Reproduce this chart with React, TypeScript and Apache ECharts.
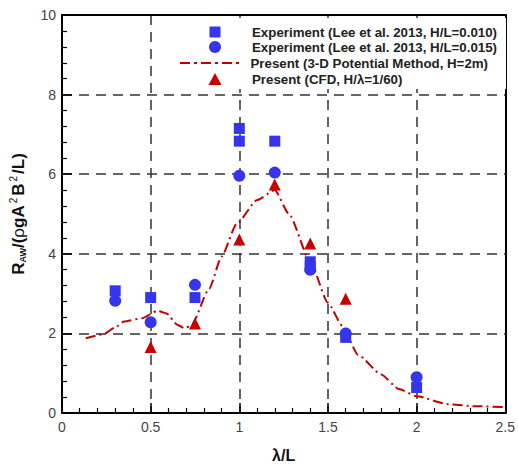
import React, { useEffect, useRef } from "react";
import * as echarts from "echarts";

const expSquareX = [0.3, 0.5, 0.75, 1.0, 1.0, 1.2, 1.4, 1.4, 1.6, 2.0];
const expSquareY = [3.07, 2.9, 2.9, 7.15, 6.83, 6.83, 3.8, 3.68, 1.9, 0.64];

const expCircleX = [0.3, 0.5, 0.75, 1.0, 1.2, 1.4, 1.6, 2.0];
const expCircleY = [2.82, 2.28, 3.22, 5.96, 6.04, 3.6, 2.0, 0.9];

const cfdX = [0.5, 0.75, 1.0, 1.2, 1.4, 1.6];
const cfdY = [1.66, 2.25, 4.36, 5.74, 4.26, 2.87];

const potX = [0.134, 0.235, 0.3, 0.35, 0.45, 0.54, 0.59, 0.65, 0.69, 0.73, 0.83, 0.9, 0.985, 1.1, 1.2, 1.28, 1.4, 1.5, 1.58, 1.67, 1.8, 1.9, 2.0, 2.18, 2.33, 2.5];
const potY = [1.88, 1.98, 2.15, 2.3, 2.38, 2.57, 2.5, 2.22, 2.13, 2.2, 3.12, 3.93, 4.75, 5.35, 5.6, 5.0, 3.8, 2.77, 2.2, 1.46, 0.97, 0.6, 0.42, 0.22, 0.17, 0.15];

const seriesNames = [
  "Experiment (Lee et al. 2013, H/L=0.010)",
  "Experiment (Lee et al. 2013, H/L=0.015)",
  "Present (3-D Potential Method, H=2m)",
  "Present (CFD, H/\u03bb=1/60)",
];

const dashDotIcon =
  "path://M0,0h10v2h-10z M14,0h3v2h-3z M21,0h10v2h-10z M35,0h3v2h-3z M42,0h10v2h-10z M56,0h3v2h-3z";

const zip = (xs: number[], ys: number[]) => xs.map((x, i) => [x, ys[i]]);

export default function App() {
  const ref = useRef<HTMLDivElement>(null);
  useEffect(() => {
    if (!ref.current) return;
    const chart = echarts.init(ref.current, undefined, { renderer: "svg", width: 518, height: 468 });
    const font = "Liberation Sans, Arial, sans-serif";
    const legendText = { fontFamily: font, fontSize: 13.3, fontWeight: "bold", color: "#222" };
    const textH = 15;
    const mkLegend = (item: any, centerY: number, iconW: number, iconH: number, iconCx: number, textX: number) => ({
      orient: "vertical",
      left: iconCx - iconW / 2,
      top: centerY - Math.max(iconH, textH) / 2,
      padding: 0,
      itemWidth: iconW,
      itemHeight: iconH,
      textStyle: { ...legendText, padding: [0, 0, 0, textX - (iconCx + iconW / 2) - 5] },
      data: [item],
      z: 5,
    });
    const mainAxis = {
      axisLine: { show: true, onZero: false, lineStyle: { color: "#000", width: 2 } },
      axisTick: { show: true, inside: true, length: 10, lineStyle: { color: "#000", width: 1.5 } },
      minorTick: { show: true, splitNumber: 5, length: 5, lineStyle: { color: "#000", width: 1.2 } },
    };
    const frameAxis = {
      axisLine: { show: true, onZero: false, lineStyle: { color: "#000", width: 2 } },
      axisTick: { show: false },
      minorTick: { show: false },
      axisLabel: { show: false },
      splitLine: { show: false },
    };
    chart.setOption({
      animation: false,
      backgroundColor: "#fff",
      grid: { left: 61, right: 10, top: 15, bottom: 49, containLabel: false },
      graphic: [
        {
          type: "rect",
          shape: { x: 174, y: 18, width: 332, height: 71 },
          style: { fill: "#fff" },
          z: 1,
        },
      ],
      legend: [
        mkLegend(seriesNames[0], 33, 11, 11, 215, 252),
        mkLegend(seriesNames[1], 48, 12, 12, 215, 252),
        mkLegend({ name: seriesNames[2], icon: dashDotIcon }, 64, 62, 2, 211, 252),
        mkLegend(seriesNames[3], 80, 13, 12, 215, 252),
      ],
      xAxis: [
        {
          type: "value",
          min: 0,
          max: 2.5,
          interval: 0.5,
          position: "bottom",
          ...mainAxis,
          axisLabel: { fontFamily: font, fontSize: 14, color: "#444", margin: 7 },
          splitLine: { show: true, lineStyle: { type: [10, 7], color: "#333", width: 1.5 } },
          name: "\u03bb/L",
          nameLocation: "middle",
          nameGap: 34,
          nameTextStyle: { fontFamily: font, fontSize: 16, fontWeight: "bold", color: "#111" },
        },
        { type: "value", min: 0, max: 2.5, interval: 0.5, position: "top", ...frameAxis },
      ],
      yAxis: [
        {
          type: "value",
          min: 0,
          max: 10,
          interval: 2,
          position: "left",
          ...mainAxis,
          axisLabel: { fontFamily: font, fontSize: 14, color: "#444", margin: 6 },
          splitLine: { show: true, lineStyle: { type: [10, 7], color: "#333", width: 1.5 } },
          name: "{m|R}{s|AW}{m|/(}{r|\u03c1}{m|gA}{p|2}{m|B}{p|2}{m|/L)}",
          nameLocation: "middle",
          nameRotate: 90,
          nameGap: 34,
          nameTextStyle: {
            fontFamily: font,
            fontSize: 17,
            fontWeight: "bold",
            color: "#111",
            rich: {
              m: { fontFamily: font, fontSize: 17, fontWeight: "bold", color: "#111" },
              r: { fontFamily: font, fontSize: 17, fontWeight: "normal", color: "#111" },
              s: { fontFamily: font, fontSize: 9, fontWeight: "bold", color: "#111", padding: [10, 0, 0, 0] },
              p: { fontFamily: font, fontSize: 10, fontWeight: "normal", color: "#111", padding: [0, 2, 10, 2] },
            },
          },
        },
        { type: "value", min: 0, max: 10, interval: 2, position: "right", ...frameAxis },
      ],
      series: [
        {
          name: seriesNames[2],
          type: "line",
          data: zip(potX, potY),
          symbol: "none",
          smooth: 0.2,
          smoothMonotone: "x",
          lineStyle: { color: "#c00000", width: 2, type: [10, 4, 2, 4] },
          itemStyle: { color: "#c00000" },
          z: 3,
        },
        {
          name: seriesNames[0],
          type: "scatter",
          data: zip(expSquareX, expSquareY),
          symbol: "rect",
          symbolSize: 11,
          itemStyle: { color: "#3535ee", opacity: 1 },
          z: 4,
        },
        {
          name: seriesNames[1],
          type: "scatter",
          data: zip(expCircleX, expCircleY),
          symbol: "circle",
          symbolSize: 12,
          itemStyle: { color: "#3535ee", opacity: 1 },
          z: 4,
        },
        {
          name: seriesNames[3],
          type: "scatter",
          data: zip(cfdX, cfdY),
          symbol: "triangle",
          symbolSize: 12,
          itemStyle: { color: "#c80000", opacity: 1 },
          z: 4,
        },
      ],
    });
    return () => chart.dispose();
  }, []);
  return (
    <div
      ref={ref}
      style={{ position: "fixed", left: 0, top: 0, width: 518, height: 468 }}
    />
  );
}
